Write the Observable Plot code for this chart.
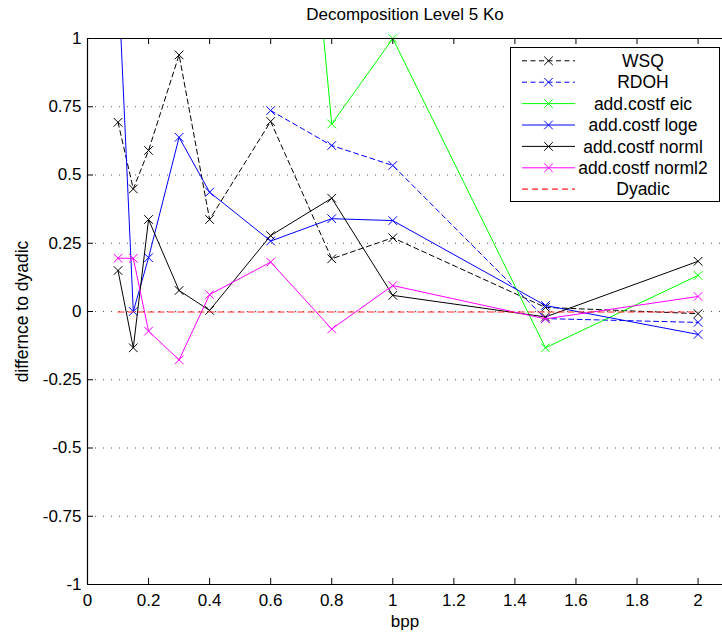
<!DOCTYPE html>
<html><head><meta charset="utf-8">
<script src="https://cdn.jsdelivr.net/npm/d3@7"></script>
<script src="https://cdn.jsdelivr.net/npm/@observablehq/plot@0.6"></script>
<style>
body{margin:0;background:#fff;}
#wrap{position:relative;width:722px;height:632px;}
#legend{position:absolute;left:0;top:0;pointer-events:none;}
</style></head><body><div id="wrap"></div>
<script>
// ---- data ----
const titleText = "Decomposition Level 5 Ko";
const xLabel = "bpp";
const yLabel = "differnce to dyadic";
const bpp = [0.1, 0.15, 0.2, 0.3, 0.4, 0.6, 0.8, 1, 1.5, 2];
const wsq    = [0.693, 0.449, 0.59, 0.94, 0.337, 0.696, 0.193, 0.27, 0.015, -0.008];
const rdoh   = [null, null, null, null, null, 0.736, 0.608, 0.535, -0.026, -0.04];
const eic    = [null, null, null, null, null, 3.07, 0.687, 1.0, -0.133, 0.132];
const loge   = [1.24, 0.0, 0.197, 0.638, 0.437, 0.258, 0.34, 0.333, 0.022, -0.084];
const norml  = [0.15, -0.133, 0.337, 0.077, 0.004, 0.278, 0.415, 0.059, -0.02, 0.184];
const norml2 = [0.195, 0.195, -0.072, -0.177, 0.062, 0.181, -0.064, 0.095, -0.027, 0.055];
const dyadic = [0, 0, 0, 0, 0, 0, 0, 0, 0, 0];
const seriesNames = ["WSQ", "RDOH", "add.costf eic", "add.costf loge", "add.costf norml", "add.costf norml2", "Dyadic"];
const seriesValues = [wsq, rdoh, eic, loge, norml, norml2, dyadic];
const xTicks = [0, 0.2, 0.4, 0.6, 0.8, 1, 1.2, 1.4, 1.6, 1.8, 2];
const yTicks = [-1, -0.75, -0.5, -0.25, 0, 0.25, 0.5, 0.75, 1];

// ---- styles ----
const styles = [
  {stroke: "#000000", dash: "5,3.5", marker: true, width: 1, dy: 0},
  {stroke: "#0000ff", dash: "5,3.5", marker: true, width: 1, dy: 0},
  {stroke: "#00ff00", dash: null, marker: true, width: 1, dy: 0},
  {stroke: "#0000ff", dash: null, marker: true, width: 1, dy: 0},
  {stroke: "#000000", dash: null, marker: true, width: 1, dy: 0},
  {stroke: "#ff00ff", dash: null, marker: true, width: 1, dy: 0},
  {stroke: "#ff2020", dash: "6,4", marker: false, width: 1.2, dy: 0.5}
];
const yDomain = [-1, 1];
const xDomain = [0, 2.08];
const tickLenX = 0.0197, tickLenY = 0.022;

const rowsOf = (vals) => bpp.map((x, j) => ({x, y: vals[j]})).filter(d => d.y != null);
const fmt = d => String(d);

const marks = [
  Plot.ruleY(yTicks.filter(v => v > -1 && v < 1), {stroke: "#555", strokeWidth: 1, strokeDasharray: "1,7"})
];
seriesValues.forEach((vals, i) => {
  const st = styles[i];
  const rows = rowsOf(vals);
  marks.push(Plot.line(rows, {x: "x", y: "y", stroke: st.stroke, strokeWidth: st.width, strokeDasharray: st.dash, dy: st.dy, clip: true}));
  if (st.marker) {
    marks.push(Plot.dot(rows.filter(d => d.y >= yDomain[0] && d.y <= yDomain[1]), {x: "x", y: "y", symbol: "times", r: 4, stroke: st.stroke, strokeWidth: 1}));
  }
});
marks.push(
  Plot.ruleX([0], {stroke: "#000", strokeWidth: 1.2}),
  Plot.ruleY([-1, 1], {stroke: "#000", strokeWidth: 1.2}),
  Plot.ruleX(xTicks, {y1: -1, y2: -1 + tickLenY, stroke: "#000"}),
  Plot.ruleX(xTicks, {y1: 1, y2: 1 - tickLenY, stroke: "#000"}),
  Plot.ruleY(yTicks, {x1: 0, x2: tickLenX, stroke: "#000"}),
  Plot.axisX({ticks: xTicks, tickSize: 0, tickPadding: 9, tickFormat: fmt, label: null, fontSize: 17, style: "letter-spacing:0.6px"}),
  Plot.axisY({ticks: yTicks, tickSize: 0, tickPadding: 6, tickFormat: fmt, label: null, fontSize: 17, style: "letter-spacing:0.6px"}),
  Plot.text([titleText], {text: d => d, frameAnchor: "top", lineAnchor: "middle", dy: -24, fontSize: 17, fill: "#000"}),
  Plot.text([xLabel], {text: d => d, frameAnchor: "bottom", lineAnchor: "middle", dy: 37, fontSize: 17, fill: "#000"}),
  Plot.text([yLabel], {text: d => d, frameAnchor: "left", textAnchor: "middle", lineAnchor: "middle", dx: -65, rotate: -90, fontSize: 17.5, fill: "#000", style: "letter-spacing:0.5px"})
);

const chart = Plot.plot({
  width: 722, height: 632,
  marginLeft: 87, marginRight: 0, marginTop: 38, marginBottom: 48,
  x: {domain: xDomain, label: null},
  y: {domain: yDomain, label: null},
  style: {fontFamily: "'Liberation Sans', Arial, Helvetica, sans-serif", fontSize: "17px", background: "#fff", color: "#000", overflow: "visible"},
  marks
});
const wrap = document.getElementById("wrap");
wrap.appendChild(chart);

// ---- legend overlay ----
const lg = d3.select(wrap).append("svg").attr("id", "legend").attr("width", 722).attr("height", 632)
  .style("font-family", "'Liberation Sans', Arial, Helvetica, sans-serif").style("font-size", "17.5px");
const box = {x: 510.5, y: 47.5, w: 209, h: 154};
lg.append("rect").attr("x", box.x).attr("y", box.y).attr("width", box.w).attr("height", box.h)
  .attr("fill", "#fff").attr("stroke", "#000").attr("stroke-width", 1);
const row0 = 60.8, rowStep = 21.4;
seriesNames.forEach((name, i) => {
  const st = styles[i];
  const y = row0 + rowStep * i;
  lg.append("line").attr("x1", 522).attr("x2", 575).attr("y1", y).attr("y2", y)
    .attr("stroke", st.stroke).attr("stroke-width", st.width).attr("stroke-dasharray", st.dash);
  if (st.marker) {
    const s = 4.3, cx = 548.5;
    lg.append("path").attr("d", `M${cx - s},${y - s}L${cx + s},${y + s}M${cx - s},${y + s}L${cx + s},${y - s}`)
      .attr("stroke", st.stroke).attr("stroke-width", 1).attr("fill", "none");
  }
  lg.append("text").attr("x", 643).attr("y", y).attr("dy", "0.35em").attr("text-anchor", "middle").attr("fill", "#000").text(name);
});
</script></body></html>
